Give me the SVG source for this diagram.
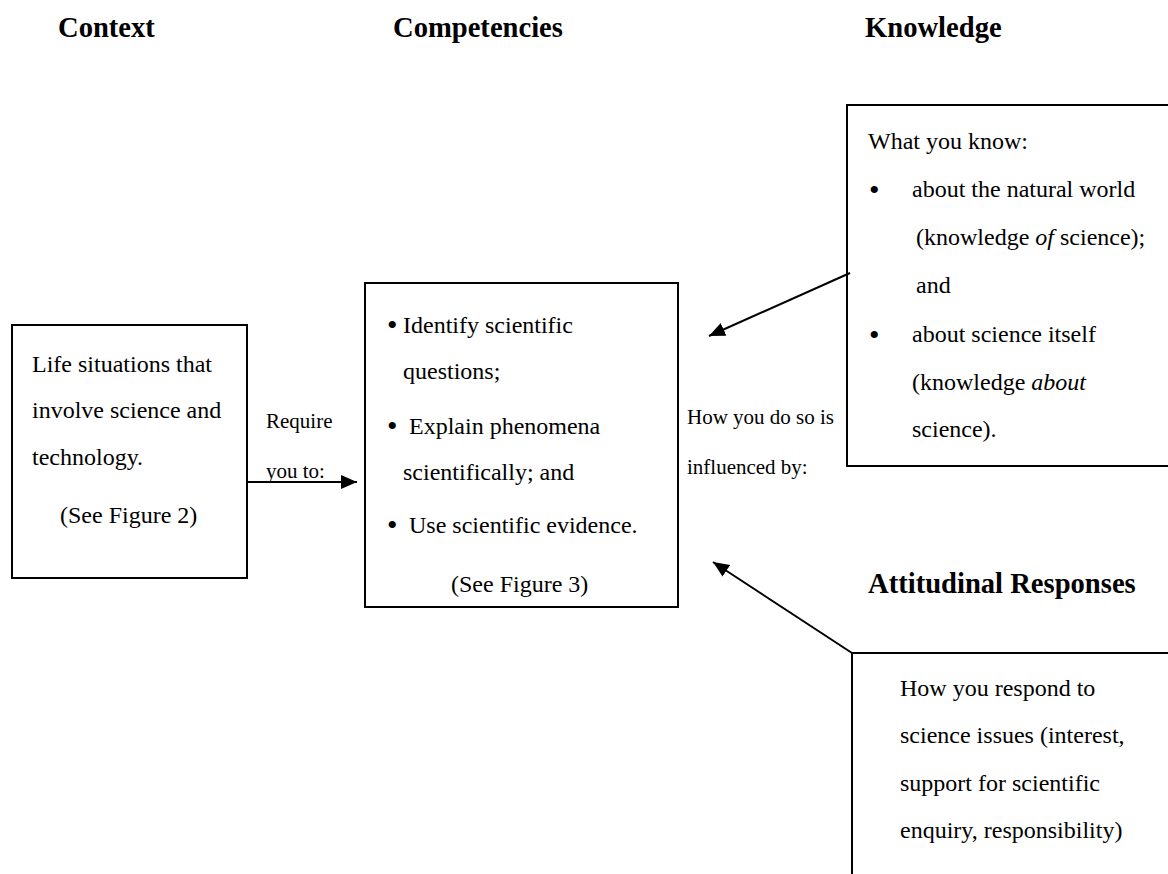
<svg xmlns="http://www.w3.org/2000/svg" width="1168" height="874" viewBox="0 0 1168 874">
<style>
  text { font-family: "Liberation Serif", "Times New Roman", serif; fill: #000; }
  .h { font-size: 28.6px; font-weight: bold; }
  .b { font-size: 24px; }
  .s { font-size: 21px; }
  .bl { font-size: 30px; }
  .box { fill: none; stroke: #000; stroke-width: 2; }
  .conn { fill: none; stroke: #000; stroke-width: 2; }
</style>
<defs>
  <marker id="arr" markerUnits="userSpaceOnUse" markerWidth="18" markerHeight="16" refX="16" refY="7" orient="auto">
    <path d="M0,0 L16,7 L0,14 Z" fill="#000"/>
  </marker>
</defs>
<rect width="1168" height="874" fill="#fff"/>

<g id="headers">
  <text class="h" x="58" y="37">Context</text>
  <text class="h" x="393" y="37">Competencies</text>
  <text class="h" x="865" y="37">Knowledge</text>
</g>

<g id="context">
  <rect class="box" x="12" y="325" width="235" height="253"/>
  <text class="b" x="32" y="372">Life situations that</text>
  <text class="b" x="32" y="418">involve science and</text>
  <text class="b" x="32" y="465">technology.</text>
  <text class="b" x="60" y="523">(See Figure 2)</text>
</g>

<g id="competencies">
  <rect class="box" x="365" y="283" width="313" height="324"/>
  <text class="bl" x="387" y="335">•</text>
  <text class="b" x="403" y="333">Identify scientific</text>
  <text class="b" x="403" y="379">questions;</text>
  <text class="bl" x="387" y="436">•</text>
  <text class="b" x="409" y="434">Explain phenomena</text>
  <text class="b" x="403" y="480">scientifically; and</text>
  <text class="bl" x="387" y="535">•</text>
  <text class="b" x="409" y="533">Use scientific evidence.</text>
  <text class="b" x="451" y="592">(See Figure 3)</text>
</g>

<g id="knowledge">
  <path class="box" d="M1172,105 H847 V466 H1172"/>
  <text class="b" x="868" y="149">What you know:</text>
  <text class="bl" x="869" y="200">•</text>
  <text class="b" x="912" y="197">about the natural world</text>
  <text class="b" x="916" y="245">(knowledge <tspan font-style="italic">of</tspan> science);</text>
  <text class="b" x="916" y="293">and</text>
  <text class="bl" x="869" y="345">•</text>
  <text class="b" x="912" y="342">about science itself</text>
  <text class="b" x="912" y="390">(knowledge <tspan font-style="italic">about</tspan></text>
  <text class="b" x="912" y="437">science).</text>
</g>

<g id="attitudinal">
  <text class="h" x="868" y="593">Attitudinal Responses</text>
  <path class="box" d="M1172,653 H852 V878"/>
  <text class="b" x="900" y="696">How you respond to</text>
  <text class="b" x="900" y="743">science issues (interest,</text>
  <text class="b" x="900" y="791">support for scientific</text>
  <text class="b" x="900" y="838">enquiry, responsibility)</text>
</g>

<g id="connectors">
  <line class="conn" x1="247" y1="482" x2="357" y2="482" marker-end="url(#arr)"/>
  <line class="conn" x1="850" y1="273" x2="709" y2="336" marker-end="url(#arr)"/>
  <line class="conn" x1="852" y1="653" x2="713" y2="562" marker-end="url(#arr)"/>
  <text class="s" x="266" y="428">Require</text>
  <text class="s" x="266" y="478">you to:</text>
  <text class="s" x="687" y="424">How you do so is</text>
  <text class="s" x="687" y="474">influenced by:</text>
</g>
</svg>
